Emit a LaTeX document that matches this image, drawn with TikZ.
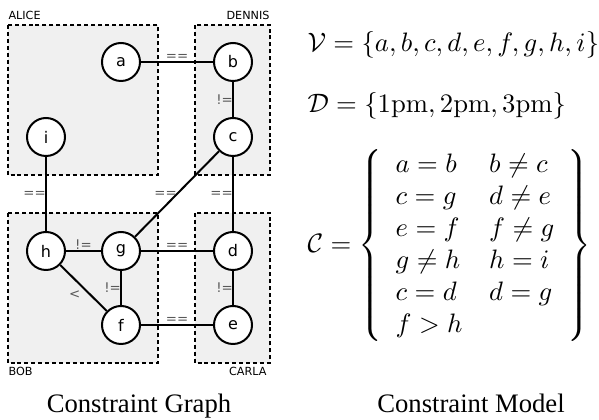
\documentclass[tikz,border=0pt]{standalone}
\usepackage[no-math]{fontspec}
\setmainfont{Liberation Serif}
\newfontfamily\graphfont{DejaVu Sans}
\usepackage{amsmath,amssymb}
\usepackage{tikz}
\usetikzlibrary{positioning}

\begin{document}
\begin{tikzpicture}[
  x=0.375pt, y=-0.375pt,
  every node/.style={font=\graphfont\fontsize{6}{7}\selectfont},
  agent/.style={draw, circle, fill=white, line width=0.75pt, minimum size=14.25pt, inner sep=0pt},
  region/.style={draw, dash pattern=on 1.5pt off 1.1pt, line width=0.55pt, fill=black!6},
  owner/.style={font=\graphfont\fontsize{4.2}{5}\selectfont, inner sep=0pt},
  link/.style={line width=0.75pt},
  tag/.style={font=\graphfont\fontsize{5}{6}\selectfont, text=black!65, inner sep=0.3pt},
  caption/.style={font=\rmfamily\fontsize{10}{12}\selectfont, inner sep=0pt},
  formula/.style={font=\rmfamily\fontsize{10}{12}\selectfont, inner sep=0pt}
]
  \useasboundingbox (0,0) rectangle (599,420);

  % Agent regions
  \draw[region] (8,25) rectangle (158,175);
  \draw[region] (195,25) rectangle (270,175);
  \draw[region] (8,213) rectangle (158,363);
  \draw[region] (195,213) rectangle (270,363);

  \node[owner, anchor=base west] (alice) at (8,20) {ALICE};
  \node[owner, anchor=base east] (dennis) at (270,20) {DENNIS};
  \node[owner, anchor=base west] (bob) at (8,376) {BOB};
  \node[owner, anchor=base east] (carla) at (267,376) {CARLA};

  % Variables
  \node[agent] (a) at (121,62) {a};
  \node[agent] (b) at (233,62) {b};
  \node[agent] (i) at (46,137) {i};
  \node[agent] (c) at (233,137) {c};
  \node[agent] (h) at (46,251) {h};
  \node[agent] (g) at (121,251) {g};
  \node[agent] (d) at (233,251) {d};
  \node[agent] (f) at (121,325) {f};
  \node[agent] (e) at (233,325) {e};

  % Constraints
  \draw[link] (a) -- node[tag, above] {==} (b);
  \draw[link] (b) -- node[tag, left, xshift=0.6pt] {!=} (c);
  \draw[link] (i) -- node[tag, left, xshift=0.6pt] {==} (h);
  \draw[link] (c) -- node[tag, left, xshift=0.6pt] {==} (g);
  \draw[link] (c) -- node[tag, left, xshift=0.6pt] {==} (d);
  \draw[link] (h) -- node[tag, above] {!=} (g);
  \draw[link] (g) -- node[tag, above] {==} (d);
  \draw[link] (g) -- node[tag, left, xshift=0.6pt] {!=} (f);
  \draw[link] (d) -- node[tag, left, xshift=0.6pt] {!=} (e);
  \draw[link] (h) -- node[tag, below left, inner sep=0.8pt] {<} (f);
  \draw[link] (f) -- node[tag, above] {==} (e);

  % Model
  \node[formula, anchor=base west] (vars) at (307,52)
    {$\mathcal{V} = \{a, b, c, d, e, f, g, h, i\}$};
  \node[formula, anchor=base west] (dom) at (307,113)
    {$\mathcal{D} = \{\mathrm{1pm}, \mathrm{2pm}, \mathrm{3pm}\}$};
  \node[formula, anchor=west] (model) at (307,246)
    {$\mathcal{C} = \left\{\begin{array}{ll}
      a = b & b \neq c \\
      c = g & d \neq e \\
      e = f & f \neq g \\
      g \neq h & h = i \\
      c = d & d = g \\
      f > h &
    \end{array}\right\}$};

  % Captions
  \node[caption, anchor=base] (graphcap) at (139,413) {Constraint Graph};
  \node[caption, anchor=base] (modelcap) at (471,413) {Constraint Model};
\end{tikzpicture}
\end{document}
